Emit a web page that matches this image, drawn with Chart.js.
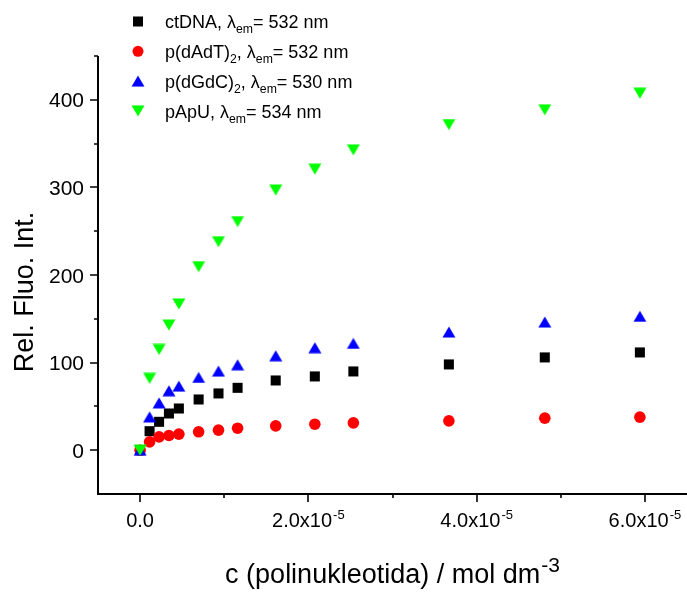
<!DOCTYPE html>
<html>
<head>
<meta charset="utf-8">
<script src="https://cdn.jsdelivr.net/npm/chart.js@4.4.1/dist/chart.umd.min.js"></script>
<style>
  html, body { margin: 0; padding: 0; background: #fff; }
  canvas { display: block; }
</style>
</head>
<body>
<canvas id="chart" width="687" height="592"></canvas>
<script>
// koncentracija polinukleotida (mol dm-3), ista za sve serije
const conc = [0, 1.13e-6, 2.26e-6, 3.43e-6, 4.61e-6, 6.96e-6, 9.32e-6, 1.159e-5, 1.612e-5, 2.077e-5, 2.535e-5, 3.67e-5, 4.81e-5, 5.94e-5];
const ctDNA = [0, 21.7, 32.4, 41.9, 47.6, 57.9, 64.8, 71.2, 79.6, 84.2, 89.9, 97.9, 105.9, 111.6];
const dAdT = [0, 9.5, 15.2, 16.8, 18.3, 21.0, 22.9, 25.1, 27.8, 29.7, 31.2, 33.5, 36.6, 37.7];
const dGdC = [0, 38, 54, 67.8, 73.1, 83, 90.3, 97.5, 107.8, 117, 121.9, 134.9, 146.3, 152.8];
const pApU = [0, 82, 115, 142.9, 166.9, 209.5, 238, 261, 297, 320.8, 342.9, 371.8, 388.6, 407.6];

const xTicks = [0, 2e-5, 4e-5, 6e-5];
const xTickLabels = ['0.0', '2.0x10', '4.0x10', '6.0x10'];
const xTickSup = ['', '-5', '-5', '-5'];
const xMinor = [1e-5, 3e-5, 5e-5];
const yTicks = [0, 100, 200, 300, 400];
const yMinor = [50, 150, 250, 350, 450];

// legenda: dijelovi teksta, sub = indeks
const legendRows = [
  [{ t: 'ctDNA, λ' }, { t: 'em', sub: true }, { t: '= 532 nm' }],
  [{ t: 'p(dAdT)' }, { t: '2', sub: true }, { t: ', λ' }, { t: 'em', sub: true }, { t: '= 532 nm' }],
  [{ t: 'p(dGdC)' }, { t: '2', sub: true }, { t: ', λ' }, { t: 'em', sub: true }, { t: '= 530 nm' }],
  [{ t: 'pApU, λ' }, { t: 'em', sub: true }, { t: '= 534 nm' }],
];

const FONT = '"Liberation Sans", Arial, sans-serif';

function triangleImg(color, down) {
  const w = 14, h = 12;
  const c = document.createElement('canvas');
  c.width = w; c.height = h;
  const g = c.getContext('2d');
  g.fillStyle = color;
  g.beginPath();
  if (down) { g.moveTo(0.5, 0.5); g.lineTo(w - 0.5, 0.5); g.lineTo(w / 2, h - 0.5); }
  else { g.moveTo(w / 2, 0.5); g.lineTo(w - 0.5, h - 0.5); g.lineTo(0.5, h - 0.5); }
  g.closePath();
  g.fill();
  return c;
}
const upBlue = triangleImg('#0000ff', false);
const downGreen = triangleImg('#00ff00', true);

const pts = (ys) => ys.map((y, i) => ({ x: conc[i], y }));

function drawParts(ctx, parts, x, y, size) {
  parts.forEach((p) => {
    const s = p.sub ? size * 0.68 : size;
    ctx.font = `${s}px ${FONT}`;
    ctx.fillText(p.t, x, p.sub ? y + 5 : y);
    x += ctx.measureText(p.t).width;
  });
}

const axesPlugin = {
  id: 'originAxes',
  afterDraw(chart) {
    const { ctx, chartArea: a, scales: { x, y } } = chart;
    ctx.save();
    ctx.strokeStyle = '#000';
    ctx.fillStyle = '#000';
    ctx.lineWidth = 2;
    ctx.beginPath();
    ctx.moveTo(a.left, a.top);
    ctx.lineTo(a.left, a.bottom);
    ctx.lineTo(a.right + 1, a.bottom);
    ctx.stroke();

    ctx.lineWidth = 1.6;
    ctx.beginPath();
    xTicks.forEach((v) => { const px = Math.round(x.getPixelForValue(v)); ctx.moveTo(px, a.bottom); ctx.lineTo(px, a.bottom + 8); });
    xMinor.forEach((v) => { const px = Math.round(x.getPixelForValue(v)); ctx.moveTo(px, a.bottom); ctx.lineTo(px, a.bottom + 4); });
    yTicks.forEach((v) => { const py = Math.round(y.getPixelForValue(v)); ctx.moveTo(a.left, py); ctx.lineTo(a.left - 8, py); });
    yMinor.forEach((v) => { const py = Math.round(y.getPixelForValue(v)); ctx.moveTo(a.left, py); ctx.lineTo(a.left - 4, py); });
    ctx.stroke();

    // x tick labels with superscript
    ctx.textBaseline = 'alphabetic';
    ctx.textAlign = 'left';
    xTicks.forEach((v, i) => {
      const px = x.getPixelForValue(v);
      ctx.font = `20px ${FONT}`;
      const w1 = ctx.measureText(xTickLabels[i]).width;
      ctx.font = `13px ${FONT}`;
      const w2 = xTickSup[i] ? ctx.measureText(xTickSup[i]).width + 1 : 0;
      const x0 = px - (w1 + w2) / 2;
      ctx.font = `20px ${FONT}`;
      ctx.fillText(xTickLabels[i], x0, 527);
      if (xTickSup[i]) { ctx.font = `13px ${FONT}`; ctx.fillText(xTickSup[i], x0 + w1 + 1, 519); }
    });

    // y tick labels
    ctx.font = `21px ${FONT}`;
    ctx.textAlign = 'right';
    yTicks.forEach((v) => { ctx.fillText(String(v), 84, y.getPixelForValue(v) + 7.5); });

    // x title
    ctx.textAlign = 'left';
    const xt = 'c (polinukleotida) / mol dm';
    ctx.font = `27px ${FONT}`;
    const tw = ctx.measureText(xt).width;
    ctx.font = `21px ${FONT}`;
    const sw = ctx.measureText('-3').width;
    const tx = (a.left + a.right) / 2 - (tw + sw + 1) / 2;
    ctx.font = `27px ${FONT}`;
    ctx.fillText(xt, tx, 583);
    ctx.font = `21px ${FONT}`;
    ctx.fillText('-3', tx + tw + 1, 572);

    // y title
    ctx.save();
    ctx.translate(33, 292);
    ctx.rotate(-Math.PI / 2);
    ctx.textAlign = 'center';
    ctx.font = `27px ${FONT}`;
    ctx.fillText('Rel. Fluo. Int.', 0, 0);
    ctx.restore();

    // legend
    const markers = [
      (cx, cy) => { ctx.fillStyle = '#000'; ctx.fillRect(cx - 5, cy - 5, 10, 10); },
      (cx, cy) => { ctx.fillStyle = '#ff0000'; ctx.beginPath(); ctx.arc(cx, cy, 5.5, 0, Math.PI * 2); ctx.fill(); },
      (cx, cy) => { ctx.drawImage(upBlue, cx - 7, cy - 6); },
      (cx, cy) => { ctx.drawImage(downGreen, cx - 7, cy - 6); },
    ];
    legendRows.forEach((parts, i) => {
      const cy = 21.5 + i * 29.8;
      markers[i](138, cy);
      ctx.fillStyle = '#000';
      ctx.textAlign = 'left';
      drawParts(ctx, parts, 165, cy + 6.8, 18);
    });
    ctx.restore();
  },
};

new Chart(document.getElementById('chart'), {
  type: 'scatter',
  data: {
    datasets: [
      { label: 'ctDNA', data: pts(ctDNA), pointStyle: 'rect', pointRadius: 7.1, backgroundColor: '#000', borderWidth: 0, order: 4 },
      { label: 'p(dAdT)2', data: pts(dAdT), pointStyle: 'circle', pointRadius: 5.8, backgroundColor: '#ff0000', borderWidth: 0, order: 3 },
      { label: 'p(dGdC)2', data: pts(dGdC), pointStyle: upBlue, order: 2 },
      { label: 'pApU', data: pts(pApU), pointStyle: downGreen, order: 1 },
    ],
  },
  options: {
    responsive: false,
    animation: false,
    layout: { autoPadding: false, padding: { left: 98, right: 0, top: 56, bottom: 98 } },
    plugins: { legend: { display: false }, tooltip: { enabled: false } },
    elements: { point: { hoverRadius: 0 } },
    datasets: { scatter: { clip: false } },
    scales: {
      x: { type: 'linear', min: -0.5e-5, max: 6.5e-5, display: false },
      y: { type: 'linear', min: -50, max: 450, display: false },
    },
  },
  plugins: [axesPlugin],
});
</script>
</body>
</html>
